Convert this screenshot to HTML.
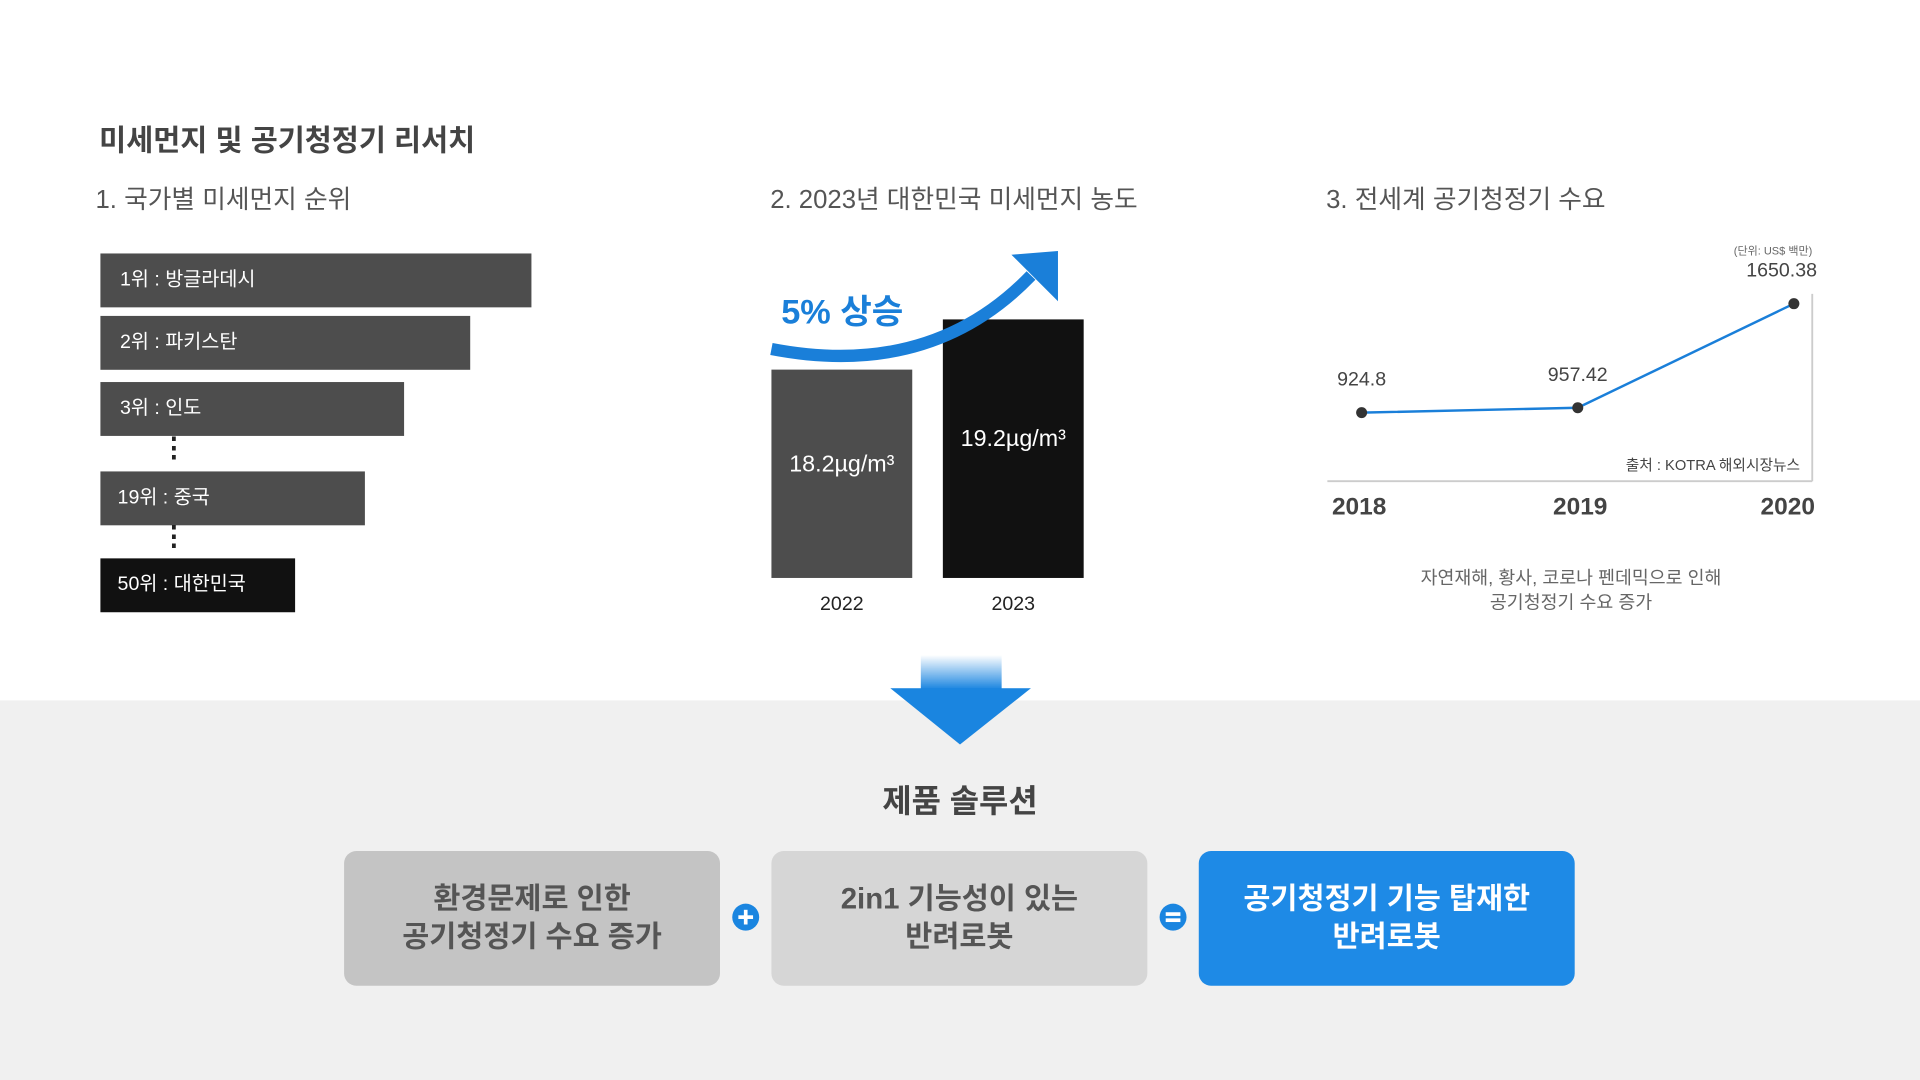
<!DOCTYPE html>
<html><head><meta charset="utf-8"><style>
html,body{margin:0;padding:0;width:1920px;height:1080px;overflow:hidden;background:#fff}
#root{position:absolute;left:0;top:0;width:1568px;height:882px;transform:scale(1.22449);transform-origin:0 0;font-family:"Liberation Sans","Noto Sans CJK KR",sans-serif;color:#444}
.abs{position:absolute;white-space:nowrap}
.rank{position:absolute;left:82px;height:44px;background:#4d4d4d;color:#fff;font-size:16px;line-height:44px;padding-left:16px;box-sizing:border-box}
.sub{font-size:21px;color:#555;top:147px}
.box{position:absolute;top:695px;width:307px;height:110px;border-radius:10px;display:flex;align-items:center;justify-content:center;text-align:center;font-size:24px;font-weight:bold;line-height:31px;color:#555}
</style></head><body>
<div id="root">
<div class="abs" style="left:81px;top:95px;font-size:24px;font-weight:bold;color:#444">미세먼지 및 공기청정기 리서치</div>
<div class="abs sub" style="left:78px">1. 국가별 미세먼지 순위</div>
<div class="abs sub" style="left:629px">2. 2023년 대한민국 미세먼지 농도</div>
<div class="abs sub" style="left:1083px">3. 전세계 공기청정기 수요</div>

<div class="rank" style="top:207px;width:352px">1위 : 방글라데시</div>
<div class="rank" style="top:258px;width:302px">2위 : 파키스탄</div>
<div class="rank" style="top:312px;width:248px">3위 : 인도</div>
<div class="abs" style="left:131px;top:361px;font-size:22px;font-weight:bold;color:#222;line-height:10px">⋮</div>
<div class="rank" style="top:385px;width:216px;padding-left:14px">19위 : 중국</div>
<div class="abs" style="left:131px;top:433px;font-size:22px;font-weight:bold;color:#222;line-height:10px">⋮</div>
<div class="rank" style="top:456px;width:159px;background:#111;padding-left:14px">50위 : 대한민국</div>

<svg class="abs" style="left:0;top:0" width="1568" height="620">
<g id="bars"></g>
<path d="M630 285 Q760 310 842 225" stroke="#1a7fd9" stroke-width="10" fill="none"/>
<polygon points="826,208 864,205 864,246" fill="#1a7fd9"/>
<text x="638" y="264" font-size="28" font-weight="bold" fill="#1a7fd9" font-family="Liberation Sans, Noto Sans CJK KR, sans-serif">5% 상승</text>
<line x1="1084" y1="393" x2="1480" y2="393" stroke="#ccc" stroke-width="1.5"/>
<line x1="1480" y1="240" x2="1480" y2="393" stroke="#ccc" stroke-width="1.5"/>
<g id="line"></g>
<text x="1448" y="208" font-size="9" fill="#666" text-anchor="middle" font-family="Liberation Sans, Noto Sans CJK KR, sans-serif">(단위: US$ 백만)</text>
<text x="1470" y="384" font-size="12" fill="#444" text-anchor="end" font-family="Liberation Sans, Noto Sans CJK KR, sans-serif">출처 : KOTRA 해외시장뉴스</text>
<text x="1283" y="477" font-size="15" fill="#666" text-anchor="middle" font-family="Liberation Sans, Noto Sans CJK KR, sans-serif">자연재해, 황사, 코로나 펜데믹으로 인해</text>
<text x="1283" y="497" font-size="15" fill="#666" text-anchor="middle" font-family="Liberation Sans, Noto Sans CJK KR, sans-serif">공기청정기 수요 증가</text>
</svg>

<div class="abs" style="left:0;top:572px;width:1568px;height:310px;background:#f0f0f0"></div>
<div class="abs" style="left:752px;top:535px;width:66px;height:28px;background:linear-gradient(to bottom,rgba(26,133,224,0),#1a85e0)"></div>
<svg class="abs" style="left:727px;top:562px" width="116" height="48"><polygon points="0,0 115,0 57,46" fill="#1a85e0"/></svg>
<div class="abs" style="left:0;width:1568px;text-align:center;top:634px;font-size:26px;font-weight:bold;color:#444">제품 솔루션</div>
<div class="box" style="left:281px;background:#c4c4c4">환경문제로 인한<br>공기청정기 수요 증가</div>
<div class="box" style="left:630px;background:#d6d6d6">2in1 기능성이 있는<br>반려로봇</div>
<div class="box" style="left:979px;background:#1e8ae6;color:#fff">공기청정기 기능 탑재한<br>반려로봇</div>
<svg class="abs" style="left:597px;top:737px" width="24" height="24"><circle cx="12" cy="12" r="11" fill="#1a85e0"/><rect x="6" y="10.5" width="12" height="3" fill="#fff"/><rect x="10.5" y="6" width="3" height="12" fill="#fff"/></svg>
<svg class="abs" style="left:946px;top:737px" width="24" height="24"><circle cx="12" cy="12" r="11" fill="#1a85e0"/><rect x="6" y="8" width="12" height="3" fill="#fff"/><rect x="6" y="13" width="12" height="3" fill="#fff"/></svg>
</div>
<script>
const barYears = ["2022","2023"];
const barValues = [18.2, 19.2];
const barLabels = ["18.2µg/m³","19.2µg/m³"];
const lineYears = ["2018","2019","2020"];
const lineValues = [924.8, 957.42, 1650.38];
const lineLabels = ["924.8","957.42","1650.38"];

const NS="http://www.w3.org/2000/svg";
const FONT="Liberation Sans, Noto Sans CJK KR, sans-serif";
function mk(tag,attrs,parent){const e=document.createElementNS(NS,tag);for(const k in attrs)e.setAttribute(k,attrs[k]);parent.appendChild(e);return e;}
const bg=document.getElementById('bars');
const barBase=472, barMin=14.05, barK=41;
const barY=v=>barBase-(v-barMin)*barK;
const barX=i=>630+i*140;
barValues.forEach((v,i)=>{
  const r=mk('rect',{x:barX(i),y:barY(v),width:115,height:barBase-barY(v),fill:i===0?'#4d4d4d':'#111'},bg);
  
  
  const t=mk('text',{x:barX(i)+57.5,y:(barY(v)+barBase)/2-2,'font-size':19,fill:'#fff','text-anchor':'middle','font-family':FONT},bg);
  t.textContent=barLabels[i];
  
  
  const y=mk('text',{x:barX(i)+57.5,y:498,'font-size':16,fill:'#222','text-anchor':'middle','font-family':FONT},bg);
  y.textContent=barYears[i];
  
  
});
const lg=document.getElementById('line');
const xs=[1112,1283,1465];
const lineX=i=>xs[0]+(xs[2]-xs[0])*i/(lineValues.length-1);
const lineY=v=>337-(v-924.8)*(89/725.58);
const pts=lineValues.map((v,i)=>lineX(i)+','+lineY(v)).join(' ');
const pl=mk('polyline',{points:pts,fill:'none',stroke:'#1a7fd9','stroke-width':2},lg);


lineValues.forEach((v,i)=>{
  const c=mk('circle',{cx:lineX(i),cy:lineY(v),r:4.5,fill:'#333'},lg);
  
  
  const t=mk('text',{x:lineX(i)+(i===2?-10:0),y:lineY(v)-22,'font-size':16,fill:'#444','text-anchor':'middle','font-family':FONT},lg);
  t.textContent=lineLabels[i];
  
  
  const yl=mk('text',{x:lineX(i)+(i===0?-2:i===2?-5:2),y:420,'font-size':20,'font-weight':'bold',fill:'#444','text-anchor':'middle','font-family':FONT},lg);
  yl.textContent=lineYears[i];
  
  
});
</script>
</body></html>
